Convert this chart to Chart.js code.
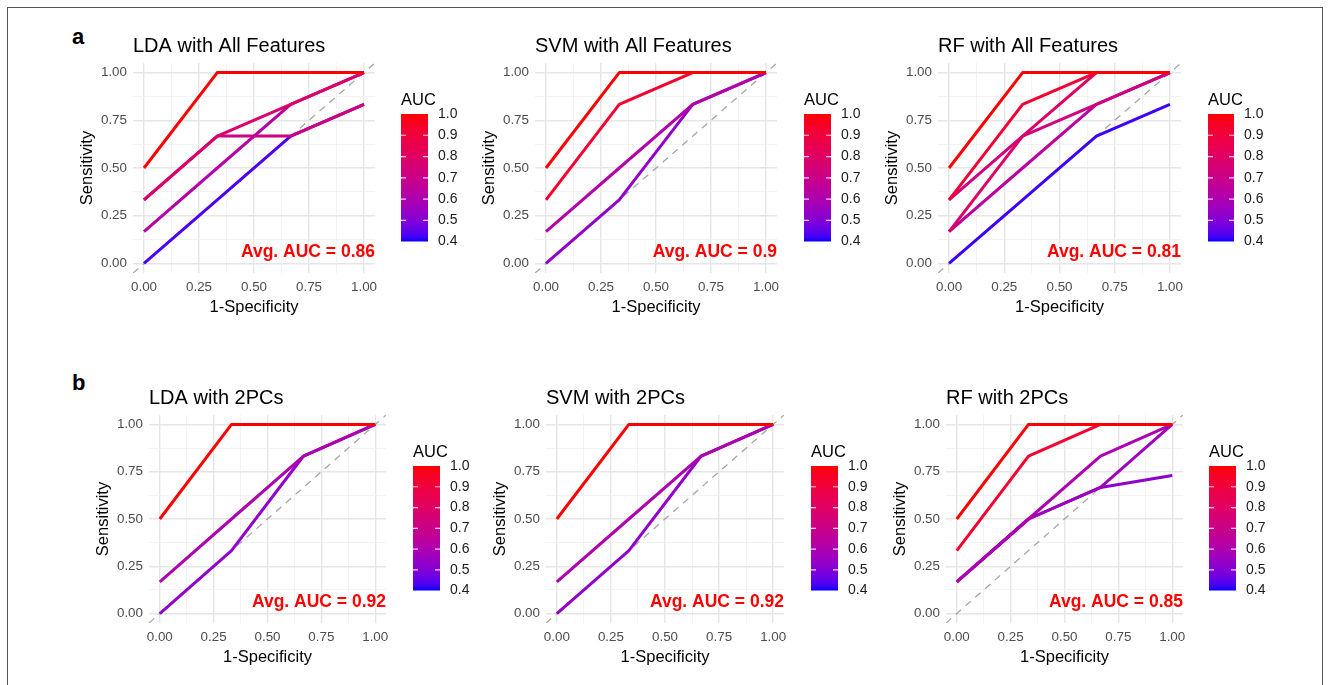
<!DOCTYPE html>
<html>
<head>
<meta charset="utf-8">
<script src="https://cdn.jsdelivr.net/npm/chart.js@4.4.1/dist/chart.umd.min.js"></script>
<style>
html,body{margin:0;padding:0;background:#fff;}
#fig{position:relative;width:1330px;height:685px;overflow:hidden;background:#fff;font-family:"Liberation Sans",Arial,sans-serif;}
#frame{position:absolute;left:7px;top:7px;width:1314px;height:700px;border:1px solid #555;border-bottom:none;}
canvas{position:absolute;}
.lbl{position:absolute;font-weight:bold;font-size:22px;line-height:22px;color:#000;}
</style>
</head>
<body>
<div id="fig">
  <div id="frame"></div>
  <div class="lbl" style="left:72px;top:26px;">a</div>
  <div class="lbl" style="left:72px;top:372px;">b</div>
</div>
<script>
// ---------------- DATA ----------------
const panelTitles = ['LDA with All Features','SVM with All Features','RF with All Features',
                     'LDA with 2PCs','SVM with 2PCs','RF with 2PCs'];
const avgAUC = ['0.86','0.9','0.81','0.92','0.92','0.85'];
const axisTicks = [0, 0.25, 0.5, 0.75, 1];
const legendBreaks = [0.4, 0.5, 0.6, 0.7, 0.8, 0.9, 1.0];
const AUC_MIN = 0.4, AUC_MAX = 1.0;

// LDA with All Features
const ldaAllFPR = [[0,0.333,1],[0,0.333,0.667,1],[0,0.333,0.667,1],[0,0.333,0.667,1],[0,0.333,0.667,1]];
const ldaAllTPR = [[0.5,1,1],[0.333,0.667,0.833,1],[0.333,0.667,0.667,0.833],[0.167,0.5,0.833,1],[0,0.333,0.667,0.833]];
const ldaAllAUC = [1.0,0.78,0.72,0.62,0.43];
// SVM with All Features
const svmAllFPR = [[0,0.333,1],[0,0.333,0.667,1],[0,0.333,0.667,1],[0,0.333,0.667,1]];
const svmAllTPR = [[0.5,1,1],[0.333,0.833,1,1],[0.167,0.5,0.833,1],[0,0.333,0.833,1]];
const svmAllAUC = [1.0,0.93,0.62,0.53];
// RF with All Features
const rfAllFPR = [[0,0.333,1],[0,0.333,0.667,1],[0,0.333,0.667,1],[0,0.333,0.667,1],[0,0.333,0.667,1],[0,0.333,0.667,1]];
const rfAllTPR = [[0.5,1,1],[0.333,0.833,1,1],[0.167,0.667,1,1],[0.333,0.667,0.833,1],[0.167,0.5,0.833,1],[0,0.333,0.667,0.833]];
const rfAllAUC = [1.0,0.92,0.8,0.72,0.64,0.42];
// LDA with 2PCs
const lda2FPR = [[0,0.333,1],[0,0.333,0.667,1],[0,0.333,0.667,1]];
const lda2TPR = [[0.5,1,1],[0.167,0.5,0.833,1],[0,0.333,0.833,1]];
const lda2AUC = [1.0,0.6,0.53];
// SVM with 2PCs
const svm2FPR = [[0,0.333,1],[0,0.333,0.667,1],[0,0.333,0.667,1]];
const svm2TPR = [[0.5,1,1],[0.167,0.5,0.833,1],[0,0.333,0.833,1]];
const svm2AUC = [1.0,0.6,0.53];
// RF with 2PCs
const rf2FPR = [[0,0.333,1],[0,0.333,0.667,1],[0,0.333,0.667,1],[0,0.333,0.667,1],[0,0.333,0.667,1]];
const rf2TPR = [[0.5,1,1],[0.333,0.833,1,1],[0.167,0.5,0.833,1],[0.167,0.5,0.667,1],[0.167,0.5,0.667,0.73]];
const rf2AUC = [1.0,0.93,0.6,0.56,0.52];

const panelFPR = [ldaAllFPR, svmAllFPR, rfAllFPR, lda2FPR, svm2FPR, rf2FPR];
const panelTPR = [ldaAllTPR, svmAllTPR, rfAllTPR, lda2TPR, svm2TPR, rf2TPR];
const panelAUC = [ldaAllAUC, svmAllAUC, rfAllAUC, lda2AUC, svm2AUC, rf2AUC];

// ---------------- LAYOUT (pixel positions of data range 0..1) ----------------
const layoutSpec = [
  {x0:144, x1:364, yTop:73,  yBot:264, cb:[401,114,428,248]},
  {x0:546, x1:766, yTop:73,  yBot:264, cb:[804,114,831,248]},
  {x0:949, x1:1170,yTop:73,  yBot:264, cb:[1208,114,1234,248]},
  {x0:160, x1:375, yTop:424, yBot:613, cb:[413,466,440,597]},
  {x0:557, x1:773, yTop:424, yBot:613, cb:[811,466,838,597]},
  {x0:957, x1:1172,yTop:424, yBot:613, cb:[1209,466,1236,597]}
];

const FAM = '"Liberation Sans", Arial, sans-serif';
Chart.defaults.font.family = FAM;

// ---------------- Lab colour interpolation (blue -> red) ----------------
function toLin(c){c/=255;return c<=0.04045?c/12.92:Math.pow((c+0.055)/1.055,2.4);}
function toSrgb(c){const v=c<=0.0031308?12.92*c:1.055*Math.pow(Math.max(c,0),1/2.4)-0.055;return Math.round(Math.min(1,Math.max(0,v))*255);}
const WX=0.95047,WY=1,WZ=1.08883;
function fL(t){return t>0.008856?Math.cbrt(t):7.787*t+16/116;}
function fInv(t){return t>0.206893?t*t*t:(t-16/116)/7.787;}
function rgb2lab(r,g,b){
  const R=toLin(r),G=toLin(g),B=toLin(b);
  const X=(0.4124564*R+0.3575761*G+0.1804375*B)/WX;
  const Y=(0.2126729*R+0.7151522*G+0.0721750*B)/WY;
  const Z=(0.0193339*R+0.1191920*G+0.9503041*B)/WZ;
  const fx=fL(X),fy=fL(Y),fz=fL(Z);
  return [116*fy-16,500*(fx-fy),200*(fy-fz)];
}
function lab2rgb(L,a,b){
  const fy=(L+16)/116,fx=fy+a/500,fz=fy-b/200;
  const X=fInv(fx)*WX,Y=fInv(fy)*WY,Z=fInv(fz)*WZ;
  const R=3.2404542*X-1.5371385*Y-0.4985314*Z;
  const G=-0.9692660*X+1.8760108*Y+0.0415560*Z;
  const B=0.0556434*X-0.2040259*Y+1.0572252*Z;
  return 'rgb('+toSrgb(R)+','+toSrgb(G)+','+toSrgb(B)+')';
}
const LAB_LO=rgb2lab(0,0,255), LAB_HI=rgb2lab(255,0,0);
function aucColor(v){
  let t=(v-AUC_MIN)/(AUC_MAX-AUC_MIN); t=Math.max(0,Math.min(1,t));
  return lab2rgb(LAB_LO[0]+(LAB_HI[0]-LAB_LO[0])*t, LAB_LO[1]+(LAB_HI[1]-LAB_LO[1])*t, LAB_LO[2]+(LAB_HI[2]-LAB_LO[2])*t);
}

const gridVals = [];
for (let k=0;k<axisTicks.length;k++){ gridVals.push(axisTicks[k]); if(k<axisTicks.length-1) gridVals.push((axisTicks[k]+axisTicks[k+1])/2); }
function isMajor(v){ return axisTicks.some(t=>Math.abs(t-v)<1e-9); }

const fig = document.getElementById('fig');

function axisCfg(titleText, isX, sizeFix){
  return {
    type:'linear', min:-0.05, max:1.05,
    afterBuildTicks: s => { s.ticks = gridVals.map(v=>({value:v})); },
    afterFit: s => { if(isX) s.height = sizeFix; else s.width = sizeFix; },
    grid:{
      drawTicks:false,
      color: c => (c.tick && isMajor(c.tick.value)) ? '#E6E6E6' : '#F0F0F0',
      lineWidth: c => (c.tick && isMajor(c.tick.value)) ? 1.4 : 0.8
    },
    border:{display:false},
    ticks:{
      autoSkip:false, maxRotation:0, minRotation:0, includeBounds:false,
      padding: 6,
      font:{size:13.4, family:FAM}, color:'#4D4D4D',
      callback: v => isMajor(v) ? v.toFixed(2) : ''
    },
    title:{
      display:true, text:titleText, color:'#000',
      font:{size:16.5, family:FAM},
      padding: isX ? {top:0,bottom:6} : {top:15,bottom:0}
    }
  };
}

function makeROC(i){
  const sp = layoutSpec[i];
  const dx=(sp.x1-sp.x0)*0.05, dy=(sp.yBot-sp.yTop)*0.05;
  const pl=sp.x0-dx, pr=sp.x1+dx, pt=sp.yTop-dy, pb=sp.yBot+dy;
  const W=70,H=50,TP=40,RP=14;
  const pw=Math.round(pr-pl), ph=Math.round(pb-pt);
  const cv=document.createElement('canvas');
  cv.width=W+pw+RP; cv.height=TP+ph+H;
  cv.style.left=(Math.round(pl)-W)+'px'; cv.style.top=(Math.round(pt)-TP)+'px';
  fig.appendChild(cv);

  const fpr=panelFPR[i], tpr=panelTPR[i], auc=panelAUC[i];
  const datasets=[{
    data:[{x:-0.05,y:-0.05},{x:1.05,y:1.05}],
    borderColor:'#A6A6A6', borderWidth:1.3, borderDash:[7,6],
    pointRadius:0, showLine:true, order:1000
  }];
  fpr.forEach((xs,k)=>{
    datasets.push({
      data: xs.map((x,j)=>({x:x, y:tpr[k][j]})),
      borderColor: aucColor(auc[k]), borderWidth:3,
      pointRadius:0, showLine:true, order: Math.round(-auc[k]*100),
      borderJoinStyle:'round', borderCapStyle:'butt', tension:0
    });
  });

  new Chart(cv,{
    type:'scatter',
    data:{datasets},
    options:{
      animation:false, responsive:false, devicePixelRatio:1,
      layout:{padding:{top:TP,right:RP,left:0,bottom:0}, autoPadding:false},
      plugins:{legend:{display:false}, tooltip:{enabled:false}},
      scales:{ x: axisCfg('1-Specificity', true, H), y: axisCfg('Sensitivity', false, W) }
    },
    plugins:[{
      id:'texts',
      afterDraw(chart){
        const {ctx, chartArea:a, scales:{x,y}} = chart;
        ctx.save();
        ctx.font = '20px '+FAM; ctx.fillStyle='#000';
        ctx.textAlign='left'; ctx.textBaseline='alphabetic';
        ctx.fillText(panelTitles[i], a.left, a.top-11.5);
        ctx.font = 'bold 17.5px '+FAM; ctx.fillStyle='#FF0000';
        ctx.textAlign='right'; ctx.textBaseline='middle';
        ctx.fillText('Avg. AUC = '+avgAUC[i], x.getPixelForValue(1.05), y.getPixelForValue(0.06));
        ctx.restore();
      }
    }]
  });
}

function makeBar(i){
  const [l,t,r,b] = layoutSpec[i].cb;
  const TP=30,BP=12,AW=45;
  const cv=document.createElement('canvas');
  cv.width=(r-l)+AW; cv.height=TP+(b-t)+BP;
  cv.style.left=l+'px'; cv.style.top=(t-TP)+'px';
  fig.appendChild(cv);
  new Chart(cv,{
    type:'bar',
    data:{labels:['AUC'], datasets:[{
      data:[[AUC_MIN,AUC_MAX]],
      barPercentage:1, categoryPercentage:1, borderWidth:0,
      backgroundColor: c => {
        const a=c.chart.chartArea; if(!a) return aucColor(AUC_MAX);
        const g=c.chart.ctx.createLinearGradient(0,a.bottom,0,a.top);
        for(let s=0;s<=30;s++) g.addColorStop(s/30, aucColor(AUC_MIN+(AUC_MAX-AUC_MIN)*s/30));
        return g;
      }
    }]},
    options:{
      animation:false, responsive:false, devicePixelRatio:1,
      layout:{padding:{top:TP,bottom:BP,left:0,right:0}, autoPadding:false},
      plugins:{legend:{display:false}, tooltip:{enabled:false}},
      scales:{
        x:{display:false},
        y:{
          position:'right', min:AUC_MIN, max:AUC_MAX,
          afterBuildTicks: s => { s.ticks = legendBreaks.map(v=>({value:v})); },
          afterFit: s => { s.width = AW; },
          grid:{display:false, drawTicks:false}, border:{display:false},
          ticks:{callback: v => v.toFixed(1), font:{size:14, family:FAM}, color:'#1A1A1A', padding:10, autoSkip:false}
        }
      }
    },
    plugins:[{
      id:'cbar',
      afterDraw(chart){
        const {ctx, chartArea:a, scales:{y}} = chart;
        ctx.save();
        ctx.strokeStyle='rgba(255,255,255,0.85)'; ctx.lineWidth=1.2;
        legendBreaks.forEach(v=>{
          if (v<=AUC_MIN+1e-9 || v>=AUC_MAX-1e-9) return;
          const py=y.getPixelForValue(v);
          ctx.beginPath(); ctx.moveTo(a.left,py); ctx.lineTo(a.left+5,py);
          ctx.moveTo(a.right-5,py); ctx.lineTo(a.right,py); ctx.stroke();
        });
        ctx.font='16.5px '+FAM; ctx.fillStyle='#000';
        ctx.textAlign='left'; ctx.textBaseline='alphabetic';
        ctx.fillText('AUC', a.left, a.top-9);
        ctx.restore();
      }
    }]
  });
}

for (let i=0;i<6;i++){ makeROC(i); makeBar(i); }
</script>
</body>
</html>
